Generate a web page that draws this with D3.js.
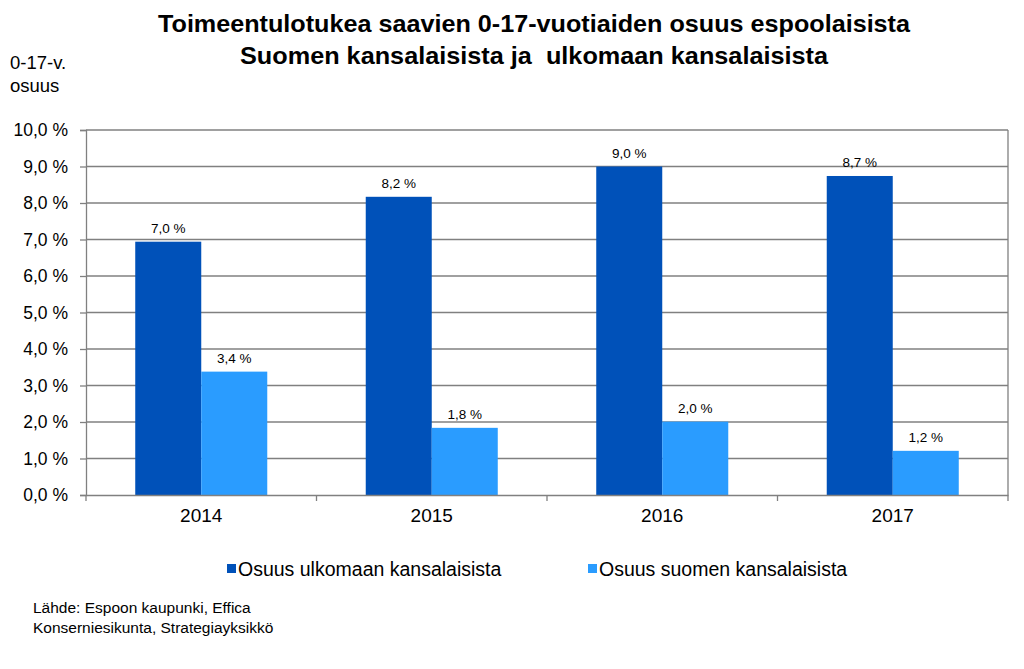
<!DOCTYPE html>
<html><head><meta charset="utf-8">
<script src="https://cdn.jsdelivr.net/npm/d3@7"></script>
<style>body{margin:0;background:#fff;} svg{display:block;font-family:"Liberation Sans",Arial,sans-serif;}</style>
</head><body>
<svg id="c" width="1024" height="669"></svg>
<script>
const years = ["2014","2015","2016","2017"];
const seriesNames = ["Osuus ulkomaan kansalaisista","Osuus suomen kansalaisista"];
const foreignVals = [6.94, 8.17, 9.0, 8.74];
const finnishVals = [3.38, 1.84, 2.01, 1.21];
const foreignLabels = ["7,0 %","8,2 %","9,0 %","8,7 %"];
const finnishLabels = ["3,4 %","1,8 %","2,0 %","1,2 %"];
const yTicks = [0,1,2,3,4,5,6,7,8,9,10];
const colors = ["#0051B9","#2A9CFF"];

const svg = d3.select("#c");
const L=86, R=1008, T=130, B=495;
const x = d3.scaleBand().domain(years).range([L,R]).paddingInner(0).paddingOuter(0);
const inner = d3.scaleBand().domain([0,1]).range([0, x.bandwidth()]).paddingOuter(0.746).paddingInner(0);
const y = d3.scaleLinear().domain([0,10]).range([B,T]);
const fmtY = v => d3.format(".1f")(v).replace(".",",") + " %";

// gridlines
svg.append("g").selectAll("line").data(yTicks.filter(d=>d>0)).join("line")
  .attr("x1",L).attr("x2",R).attr("y1",d=>y(d)).attr("y2",d=>y(d))
  .attr("stroke","#808080").attr("stroke-width",1.3);
// right border
svg.append("line").attr("x1",R).attr("x2",R).attr("y1",T).attr("y2",B).attr("stroke","#808080").attr("stroke-width",1.3);

// y axis
const ya = svg.append("g").attr("transform",`translate(${L},0)`)
  .call(d3.axisLeft(y).tickValues(yTicks).tickFormat(fmtY).tickSize(6).tickPadding(12));
ya.select(".domain").attr("stroke","#808080").attr("stroke-width",1.3);
ya.selectAll(".tick line").attr("stroke","#808080").attr("stroke-width",1.3);
ya.selectAll("text").attr("font-size",17.5).attr("fill","#000").attr("font-family","Liberation Sans, Arial, sans-serif");

// bars
const data = years.map((yr,i)=>({yr, vals:[foreignVals[i],finnishVals[i]], labs:[foreignLabels[i],finnishLabels[i]]}));
const groups = svg.append("g").selectAll("g").data(data).join("g").attr("transform",d=>`translate(${x(d.yr)},0)`);
const bw = inner.bandwidth();
groups.selectAll("rect").data(d=>d.vals.map((v,j)=>({v,j}))).join("rect")
  .attr("x",d=>inner(d.j)).attr("width",bw)
  .attr("y",d=>y(d.v)).attr("height",d=>B-y(d.v)).attr("fill",d=>colors[d.j]);
groups.selectAll("text").data(d=>d.vals.map((v,j)=>({v,j,l:d.labs[j]}))).join("text")
  .attr("x",d=>inner(d.j)+bw/2).attr("y",d=>y(d.v)-9)
  .attr("text-anchor","middle").attr("font-size",13.5).attr("fill","#000").text(d=>d.l);

// x axis
const xa = svg.append("g").attr("transform",`translate(0,${B})`)
  .call(d3.axisBottom(x).tickSize(0).tickPadding(14));
xa.select(".domain").attr("stroke","#808080").attr("stroke-width",1.3);
xa.selectAll("text").attr("font-size",19).attr("fill","#000").attr("font-family","Liberation Sans, Arial, sans-serif");
svg.append("g").selectAll("line").data(d3.range(years.length+1)).join("line")
  .attr("x1",i=>L+i*x.bandwidth()).attr("x2",i=>L+i*x.bandwidth())
  .attr("y1",B).attr("y2",B+6).attr("stroke","#808080").attr("stroke-width",1.3);

// title
svg.append("text").attr("x",534).attr("y",32).attr("text-anchor","middle")
  .attr("font-size",24).attr("font-weight","bold").attr("textLength",752).attr("lengthAdjust","spacingAndGlyphs")
  .text("Toimeentulotukea saavien 0-17-vuotiaiden osuus espoolaisista");
svg.append("text").attr("x",534).attr("y",64).attr("text-anchor","middle")
  .attr("font-size",24).attr("font-weight","bold").attr("textLength",588).attr("lengthAdjust","spacingAndGlyphs")
  .attr("xml:space","preserve")
  .text("Suomen kansalaisista ja  ulkomaan kansalaisista");

// y axis title
svg.append("text").attr("x",10).attr("y",69).attr("font-size",18.5).text("0-17-v.");
svg.append("text").attr("x",10).attr("y",92).attr("font-size",18.5).text("osuus");

// legend
const legX = [227, 588];
const lg = svg.append("g").selectAll("g").data(seriesNames).join("g").attr("transform",(d,i)=>`translate(${legX[i]},0)`);
lg.append("rect").attr("x",0).attr("y",564).attr("width",9).attr("height",9).attr("fill",(d,i)=>colors[i]);
lg.append("text").attr("x",11).attr("y",576).attr("font-size",19.5).text(d=>d);

// source
svg.append("text").attr("x",33).attr("y",613).attr("font-size",15.5).text("Lähde: Espoon kaupunki, Effica");
svg.append("text").attr("x",33).attr("y",633).attr("font-size",15.5).text("Konserniesikunta, Strategiayksikkö");
</script>
</body></html>
